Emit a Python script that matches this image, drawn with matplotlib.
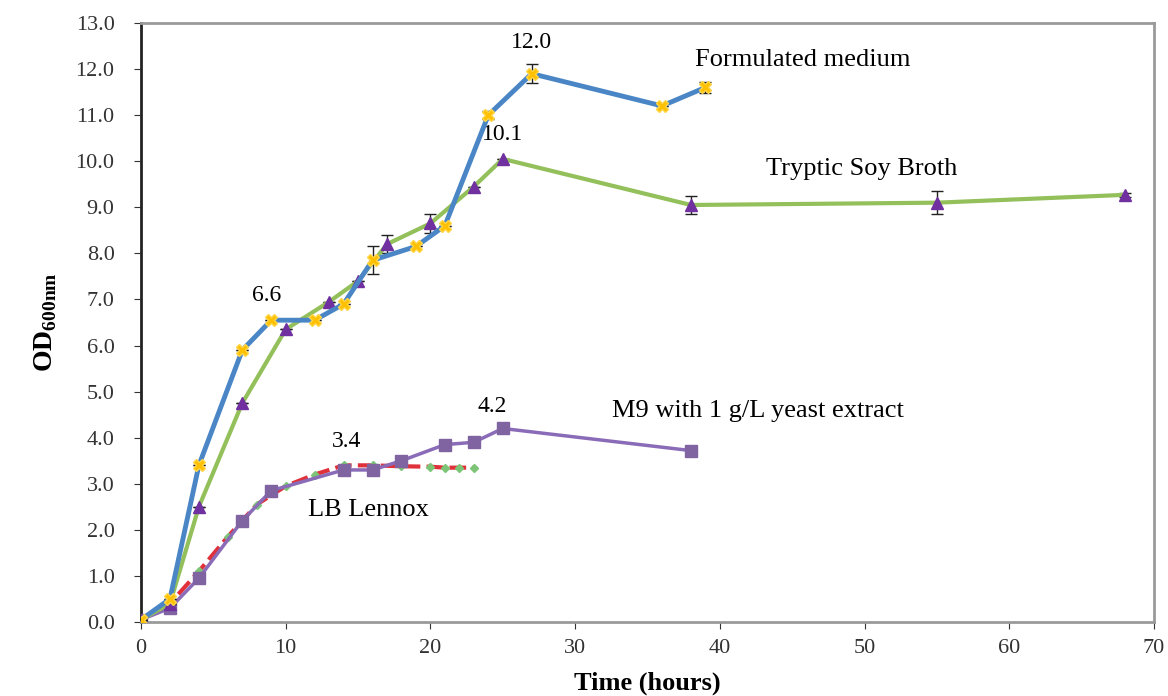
import matplotlib
matplotlib.use("Agg")
import matplotlib.pyplot as plt

plt.rcParams['font.family'] = ['Liberation Serif', 'DejaVu Serif']
plt.rcParams['mathtext.fontset'] = 'custom'
plt.rcParams['mathtext.rm'] = 'Liberation Serif'
plt.rcParams['mathtext.bf'] = 'Liberation Serif:bold'

# Formulated medium
fm_t = [0, 2, 4, 7, 9, 12, 14, 16, 19, 21, 24, 27, 36, 39]
fm_od = [0.05, 0.5, 3.4, 5.9, 6.55, 6.55, 6.9, 7.85, 8.15, 8.6, 11.0, 11.9, 11.2, 11.6]
fm_err = [0, 0, 0, 0, 0, 0, 0, 0.3, 0, 0, 0.08, 0.2, 0, 0.12]

# Tryptic Soy Broth
tsb_t = [0, 2, 4, 7, 10, 13, 15, 17, 20, 23, 25, 38, 55, 68]
tsb_od = [0.05, 0.4, 2.5, 4.75, 6.35, 6.95, 7.4, 8.2, 8.65, 9.45, 10.05, 9.05, 9.1, 9.27]
tsb_err = [0, 0, 0, 0, 0, 0, 0, 0.2, 0.2, 0, 0, 0.2, 0.25, 0.05]

# M9 with 1 g/L yeast extract
m9_t = [0, 2, 4, 7, 9, 14, 16, 18, 21, 23, 25, 38]
m9_od = [0.05, 0.3, 0.95, 2.2, 2.85, 3.3, 3.3, 3.5, 3.85, 3.9, 4.2, 3.72]

# LB Lennox
lb_t = [0, 2, 4, 6, 8, 10, 12, 14, 16, 18, 20, 21, 22, 23]
lb_od = [0.05, 0.4, 1.1, 1.85, 2.55, 2.95, 3.2, 3.4, 3.4, 3.38, 3.37, 3.35, 3.35, 3.35]

fig = plt.figure(figsize=(11.68, 6.96), dpi=100)
ax = fig.add_axes([0.1207, 0.1063, 0.8673, 0.8607])

ax.plot(lb_t, lb_od, color='#E0303A', lw=3, ls=(0, (4, 1.5)), marker='D',
        ms=4, mfc='#7CC576', mec='#7CC576', zorder=3)
ax.plot(m9_t, m9_od, color='#8A6BB8', lw=2.5, marker='s', ms=8,
        mfc='#8064A2', mec='#8064A2', zorder=4)
ax.errorbar(tsb_t, tsb_od, yerr=tsb_err, color='#93C05A', lw=3, marker='^', ms=9,
            mfc='#7030A0', mec='#7030A0', ecolor='#222222', elinewidth=1,
            capsize=4, zorder=5)
ax.errorbar(fm_t, fm_od, yerr=fm_err, color='#4A86C5', lw=3.5, marker='X', ms=9,
            mfc='#FFC000', mec='#FFD54A', ecolor='#222222', elinewidth=1,
            capsize=4, zorder=6)

ax.set_xlim(0, 70)
ax.set_ylim(0, 13)
ax.set_xticks(range(0, 71, 10))
ax.set_yticks([i for i in range(14)])
ax.set_yticklabels([f"{i:.1f}" for i in range(14)])
ax.tick_params(labelsize=16, colors='#333333', direction='out', length=5)
ax.tick_params(axis='y', pad=14)
ax.tick_params(axis='x', pad=7)

for side in ['top', 'right', 'bottom']:
    ax.spines[side].set_color('#9a9a9a')
    ax.spines[side].set_linewidth(2)
ax.spines['left'].set_color('#222222')
ax.spines['left'].set_linewidth(2)

# value labels at peaks
tsz = 17
ax.text(27, 12.35, "12.0", ha='center', va='bottom', fontsize=tsz)
ax.text(25, 10.35, "10.1", ha='center', va='bottom', fontsize=tsz)
ax.text(8.7, 6.85, "6.6", ha='center', va='bottom', fontsize=tsz)
ax.text(14.2, 3.7, "3.4", ha='center', va='bottom', fontsize=tsz)
ax.text(24.3, 4.45, "4.2", ha='center', va='bottom', fontsize=tsz)

# series names
nsz = 19
ax.text(45.7, 12.2, "Formulated medium", ha='center', va='center', fontsize=nsz)
ax.text(49.8, 9.83, "Tryptic Soy Broth", ha='center', va='center', fontsize=nsz)
ax.text(42.6, 4.58, "M9 with 1 g/L yeast extract", ha='center', va='center', fontsize=nsz)
ax.text(15.7, 2.43, "LB Lennox", ha='center', va='center', fontsize=nsz)

ax.set_xlabel("Time (hours)", fontsize=19, fontweight='bold', labelpad=10)
ax.set_ylabel(r"OD$_{\mathbf{600nm}}$", fontsize=20, fontweight='bold', labelpad=12)

fig.savefig("out.png", dpi=100)
